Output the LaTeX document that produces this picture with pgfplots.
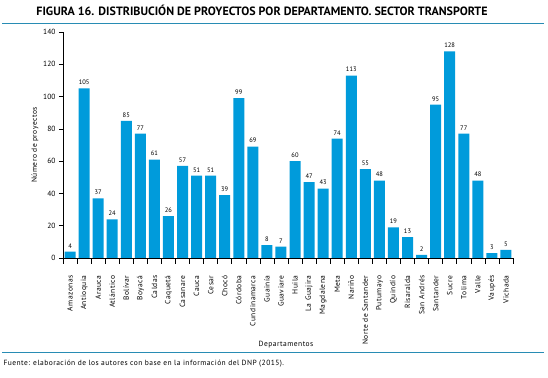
\documentclass[border=0pt]{standalone}
\usepackage{pgfplots}
\pgfplotsset{compat=1.18}
\usepackage{fontspec}
\setmainfont{PT Sans}
\newfontfamily\spaced[LetterSpace=6]{PT Sans}
\definecolor{barblue}{RGB}{0,155,219}
\definecolor{lineblue}{RGB}{40,140,180}
\begin{document}
\begin{tikzpicture}[x=1pt,y=1pt]
\path[use as bounding box] (0,0) rectangle (548,377);
\node[font=\fontsize{12}{14}\selectfont\bfseries] at (262,367) {FIGURA 16. DISTRIBUCIÓN DE PROYECTOS POR DEPARTAMENTO. SECTOR TRANSPORTE};
\draw[lineblue, line width=1pt] (2,353) -- (544,353);
\draw[lineblue, line width=1pt] (2,24) -- (544,24);
\node[anchor=west, font=\fontsize{7.5}{8}\selectfont\spaced] at (0,13) {Fuente: elaboración de los autores con base en la información del DNP (2015).};
\node[font=\fontsize{7.5}{8}\selectfont\spaced] at (286,32) {Departamentos};
\begin{axis}[
  at={(70.03pt,119pt)}, anchor=origin,
  scale only axis, width=450pt, height=226pt,
  xmin=-0.5, xmax=31.5, ymin=0, ymax=140,
  axis lines=left, axis line style={-, black, line width=0.6pt},
  ytick={0,20,...,140},
  ylabel={Número de proyectos},
  ylabel style={font=\fontsize{7.5}{8}\selectfont\spaced, yshift=-2pt},
  yticklabel style={font=\fontsize{7.5}{8}\selectfont},
  /pgf/number format/assume math mode=true,
  tick align=outside,
  major tick length=4pt,
  tick style={black, line width=0.6pt},
  xtick={0,...,31},
  x tick style={draw=none},
  xticklabels={Amazonas,Antioquia,Arauca,Atlántico,Bolívar,Boyacá,Caldas,Caquetá,Casanare,Cauca,Cesar,Chocó,Córdoba,Cundinamarca,Guainía,Guaviare,Huila,La Guajira,Magdalena,Meta,Nariño,Norte de Santander,Putumayo,Quindío,Risaralda,San Andrés,Santander,Sucre,Tolima,Valle,Vaupés,Vichada},
  xticklabel style={rotate=90, anchor=east, font=\fontsize{7.5}{8}\selectfont\spaced},
  xticklabel shift=10pt,
  extra x ticks={-0.5,0.5,...,31.5},
  extra x tick labels={},
  extra x tick style={x tick style={draw=black, line width=0.6pt}, major tick length=6pt},
  ybar, bar width=11pt,
  nodes near coords,
  nodes near coords style={font=\fontsize{6.5}{7}\selectfont, black},
  clip=false,
]
\addplot[fill=barblue, draw=none] coordinates {
(0,4) (1,105) (2,37) (3,24) (4,85) (5,77) (6,61) (7,26) (8,57) (9,51) (10,51) (11,39) (12,99) (13,69) (14,8) (15,7)
(16,60) (17,47) (18,43) (19,74) (20,113) (21,55) (22,48) (23,19) (24,13) (25,2) (26,95) (27,128) (28,77) (29,48) (30,3) (31,5)
};
\end{axis}
\end{tikzpicture}
\end{document}
